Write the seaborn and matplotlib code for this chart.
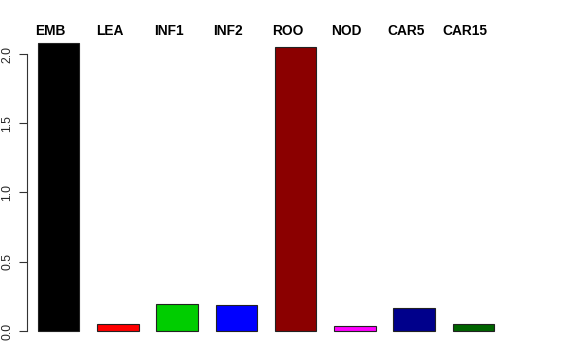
import matplotlib
matplotlib.use("Agg")
import matplotlib.pyplot as plt
import matplotlib.transforms as mtransforms
import seaborn as sns
import pandas as pd

categories = ["EMB", "LEA", "INF1", "INF2", "ROO", "NOD", "CAR5", "CAR15"]
values = [2.08, 0.05, 0.195, 0.19, 2.05, 0.036, 0.165, 0.05]
colors = ["#000000", "#FF0000", "#00CD00", "#0000FF", "#8B0000", "#FF00FF", "#00008B", "#006400"]
yticks = [0.0, 0.5, 1.0, 1.5, 2.0]
ytick_labels = ["0.0", "0.5", "1.0", "1.5", "2.0"]

sns.set_theme(style="white")
plt.rcParams["font.family"] = ["Liberation Sans", "DejaVu Sans"]

df = pd.DataFrame({"cat": categories, "val": values})

fig = plt.figure(figsize=(5.76, 3.6), dpi=100)
ax = fig.add_axes([27 / 576, 1 - 342.5 / 360, (505 - 27) / 576, (342.5 - 31.4) / 360])

sns.barplot(data=df, x="cat", y="val", hue="cat", palette=colors, order=categories,
            hue_order=categories, legend=False, width=0.7, edgecolor="#222222",
            linewidth=0.8, saturation=1, ax=ax)

ymax = max(values)
ax.set_ylim(-0.04 * ymax, ymax * 1.04)
ax.set_xlim(-0.535, len(categories) - 1 + 0.535)

ax.set_xlabel("")
ax.set_ylabel("")
ax.set_xticks([])
ax.set_yticks(yticks)
ax.set_yticklabels(ytick_labels, rotation=90, va="center", fontsize=8.8)
ax.tick_params(axis="y", length=6, width=0.8, color="#333333", direction="out", pad=4, left=True)

for s in ["top", "right", "bottom"]:
    ax.spines[s].set_visible(False)
ax.spines["left"].set_bounds(0, 2.0)
ax.spines["left"].set_color("#333333")
ax.spines["left"].set_linewidth(0.8)

trans = mtransforms.blended_transform_factory(ax.transData, fig.transFigure)
for i, c in enumerate(categories):
    ax.text(i - 0.14, 1 - 35 / 360, c, transform=trans, ha="center", va="baseline",
            fontsize=9.9, fontweight="bold", color="black")

fig.savefig("out.png", dpi=100)
